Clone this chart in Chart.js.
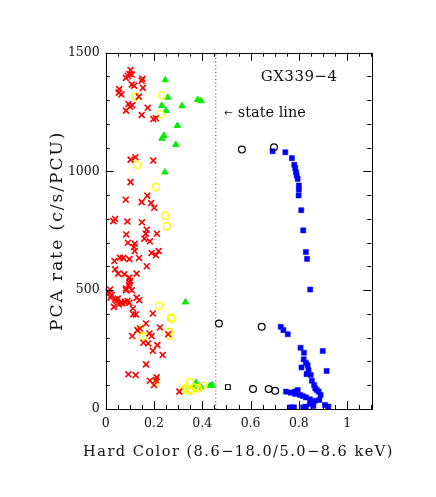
<!DOCTYPE html>
<html>
<head>
<meta charset="utf-8">
<script src="https://cdn.jsdelivr.net/npm/chart.js@4.4.0/dist/chart.umd.min.js"></script>
<style>
  html, body { margin: 0; padding: 0; background: #fff; }
</style>
</head>
<body>
<canvas id="chart-hid" width="436" height="497"></canvas>
<script>
/* GX339-4 hardness-intensity diagram (PCA rate vs hard color) */

// axis ticks
const xTickValues = [0, 0.2, 0.4, 0.6, 0.8, 1];
const yTickValues = [0, 500, 1000, 1500];

// state line position (hard color)
const stateLineHC = 0.456;

// [hard color, PCA rate]
const softCross = [
  [0.103,1427],[0.098,1410],[0.108,1408],[0.092,1402],[0.084,1394],[0.152,1390],[0.149,1382],
  [0.108,1366],[0.118,1361],[0.154,1352],[0.056,1347],[0.054,1332],[0.065,1324],[0.137,1315],
  [0.094,1284],[0.110,1279],[0.101,1273],[0.084,1256],[0.174,1268],[0.149,1238],[0.197,1221],
  [0.208,1224],[0.103,1050],[0.123,1060],[0.197,1046],
  [0.103,955],[0.083,881],[0.172,898],[0.149,871],[0.188,867],[0.201,847],[0.039,800],[0.032,791],
  [0.090,789],[0.150,786],[0.085,735],[0.170,755],[0.166,738],[0.212,738],[0.160,717],[0.183,706],
  [0.092,700],[0.120,696],[0.117,682],[0.120,665],[0.190,657],[0.219,665],[0.208,647],[0.059,637],
  [0.073,636],[0.098,631],[0.138,636],[0.036,623],[0.170,601],[0.039,588],[0.052,570],[0.077,567],
  [0.128,570],[0.098,553],[0.101,539],[0.096,521],[0.018,503],[0.084,507],
  [0.098,531],[0.084,500],[0.108,500],[0.015,489],[0.025,479],[0.039,461],[0.062,447],[0.080,451],
  [0.098,447],[0.034,430],[0.128,469],[0.139,458],[0.112,423],[0.114,399],[0.125,398],[0.195,402],
  [0.010,495],[0.020,470],[0.045,455],[0.055,440],[0.070,445],[0.090,455],[0.050,465],
  [0.167,360],[0.142,339],[0.131,332],[0.225,343],[0.181,318],[0.190,307],[0.259,315],[0.110,307],
  [0.156,279],[0.176,276],[0.214,269],[0.195,245],[0.236,227],[0.167,188],[0.094,146],[0.124,143],
  [0.183,119],[0.211,133],[0.208,122],[0.200,101],[0.305,73]
];

const softCircle = [
  [0.123,1315],[0.234,1321],[0.228,1240],[0.131,1028],[0.208,934],[0.247,814],[0.253,770],
  [0.221,434],[0.270,385],[0.274,380],[0.142,335],[0.156,304],[0.263,325],[0.266,307],[0.204,113],
  [0.349,113],[0.332,87],[0.321,80],[0.352,77],[0.370,90],[0.383,87],[0.404,97],[0.345,82]
];

const softTriangle = [
  [0.247,1385],[0.257,1312],[0.232,1277],[0.250,1256],[0.316,1276],[0.381,1302],[0.395,1297],
  [0.297,1193],[0.241,1151],[0.233,1139],[0.290,1113],[0.245,997],[0.330,450],
  [0.364,95],[0.374,111],[0.395,91],[0.432,98],[0.441,101]
];

const hardCircle = [
  [0.564,1092],[0.697,1102],[0.469,360],[0.646,346],[0.610,84],[0.675,84],[0.702,77]
];

const hardOpenSquare = [[0.506,92]];

const hardSquare = [
  [0.691,1085],[0.744,1081],[0.771,1056],[0.781,1028],[0.785,1014],[0.788,997],[0.791,983],
  [0.795,969],[0.800,941],[0.800,923],[0.799,899],[0.810,837],[0.818,752],[0.829,661],[0.834,632],
  [0.847,503],[0.725,346],[0.736,332],[0.754,315],[0.807,258],[0.821,237],[0.899,244],[0.820,209],
  [0.829,195],[0.836,185],[0.811,175],[0.840,164],[0.915,160],[0.832,147],[0.849,143],[0.854,119],
  [0.863,101],[0.868,87],[0.874,80],[0.882,73],[0.747,73],[0.766,69],[0.784,73],[0.795,80],
  [0.784,63],[0.805,59],[0.816,55],[0.829,49],[0.846,41],[0.867,35],[0.890,59],[0.885,38],
  [0.846,21],[0.829,10],[0.860,13],[0.818,7],[0.766,7],[0.780,7],[0.908,17],[0.922,10]
];

const toXY = arr => arr.map(p => ({ x: p[0], y: p[1] }));
const SERIF = '"DejaVu Serif", serif';

// frame with inward ticks on all four sides, axis titles and labels
const frameTicks = {
  id: 'frameTicks',
  afterDraw(chart) {
    const { ctx, chartArea: a, scales: { x, y } } = chart;
    ctx.save();
    ctx.strokeStyle = '#000';
    ctx.lineWidth = 1;
    ctx.strokeRect(Math.round(a.left) + 0.5, Math.round(a.top) + 0.5,
      Math.round(a.right - a.left), Math.round(a.bottom - a.top));
    ctx.beginPath();
    for (let i = 0; i <= 22; i++) {
      const px = Math.round(x.getPixelForValue(i * 0.05)) + 0.5;
      const len = i % 4 === 0 ? 8 : 4;
      ctx.moveTo(px, a.bottom); ctx.lineTo(px, a.bottom - len);
      ctx.moveTo(px, a.top); ctx.lineTo(px, a.top + len);
    }
    for (let i = 0; i <= 15; i++) {
      const py = Math.round(y.getPixelForValue(i * 100)) + 0.5;
      const len = i % 5 === 0 ? 8 : 4;
      ctx.moveTo(a.left, py); ctx.lineTo(a.left + len, py);
      ctx.moveTo(a.right, py); ctx.lineTo(a.right - len, py);
    }
    ctx.stroke();

    ctx.fillStyle = '#111';
    ctx.textBaseline = 'middle';

    // x title
    ctx.letterSpacing = '1.5px';
    ctx.font = '14.5px ' + SERIF;
    ctx.textAlign = 'center';
    ctx.fillText('Hard Color (8.6\u221218.0/5.0\u22128.6 keV)', (a.left + a.right) / 2, 452);

    // y title
    ctx.save();
    ctx.translate(58, (a.top + a.bottom) / 2);
    ctx.rotate(-Math.PI / 2);
    ctx.letterSpacing = '2px';
    ctx.font = '17px ' + SERIF;
    ctx.fillText('PCA rate (c/s/PCU)', 0, 0);
    ctx.restore();

    // source name and state line label
    ctx.letterSpacing = '0.5px';
    ctx.textAlign = 'left';
    ctx.font = '15px ' + SERIF;
    ctx.fillText('GX339\u22124', x.getPixelForValue(0.642), y.getPixelForValue(1396));
    ctx.letterSpacing = '0px';
    ctx.font = '14.5px ' + SERIF;
    ctx.fillText('state line', x.getPixelForValue(0.547), y.getPixelForValue(1245));
    ctx.font = '10px "DejaVu Sans", sans-serif';
    ctx.fillText('\u2190', x.getPixelForValue(0.49), y.getPixelForValue(1245));
    ctx.restore();
  }
};

new Chart(document.getElementById('chart-hid'), {
  type: 'scatter',
  data: {
    datasets: [
      {
        type: 'line',
        data: [{ x: stateLineHC, y: 0 }, { x: stateLineHC, y: 1500 }],
        borderColor: '#444', borderWidth: 1, borderDash: [1, 2.5],
        pointRadius: 0, fill: false, order: 10
      },
      {
        data: toXY(softCross), pointStyle: 'crossRot', pointRadius: 4.2,
        borderColor: '#ff0000', backgroundColor: '#ff0000', borderWidth: 1.6
      },
      {
        data: toXY(softCircle), pointStyle: 'circle', pointRadius: 3.6,
        borderColor: '#ffff00', backgroundColor: 'rgba(0,0,0,0)', borderWidth: 1.4
      },
      {
        data: toXY(softTriangle), pointStyle: 'triangle', pointRadius: 3.6,
        borderColor: '#00ee00', backgroundColor: '#00ee00', borderWidth: 1
      },
      {
        data: toXY(hardCircle), pointStyle: 'circle', pointRadius: 3.4,
        borderColor: '#000', backgroundColor: 'rgba(0,0,0,0)', borderWidth: 1.2
      },
      {
        data: toXY(hardOpenSquare), pointStyle: 'rect', pointRadius: 3.4,
        borderColor: '#000', backgroundColor: 'rgba(0,0,0,0)', borderWidth: 1.1
      },
      {
        data: toXY(hardSquare), pointStyle: 'rect', pointRadius: 3.6,
        borderColor: '#0000ff', backgroundColor: '#0000ff', borderWidth: 0.5
      }
    ]
  },
  options: {
    responsive: false,
    animation: false,
    layout: { padding: { top: 52.7, right: 64.7, left: 0, bottom: 0 } },
    plugins: { legend: { display: false }, tooltip: { enabled: false } },
    scales: {
      x: {
        type: 'linear', min: 0, max: 1.1,
        afterFit: s => { s.height = 88; },
        afterBuildTicks: s => { s.ticks = xTickValues.map(v => ({ value: v })); },
        grid: { display: false, drawTicks: false },
        border: { display: false },
        ticks: {
          padding: 7, color: '#111', maxRotation: 0,
          font: { family: SERIF, size: 12.5 },
          callback: v => String(+v.toFixed(2))
        }
      },
      y: {
        type: 'linear', min: 0, max: 1500,
        afterFit: s => { s.width = 105.7; },
        afterBuildTicks: s => { s.ticks = yTickValues.map(v => ({ value: v })); },
        grid: { display: false, drawTicks: false },
        border: { display: false },
        ticks: {
          padding: 6, color: '#111',
          font: { family: SERIF, size: 12.5 },
          callback: v => String(v)
        }
      }
    }
  },
  plugins: [frameTicks]
});
</script>
</body>
</html>
